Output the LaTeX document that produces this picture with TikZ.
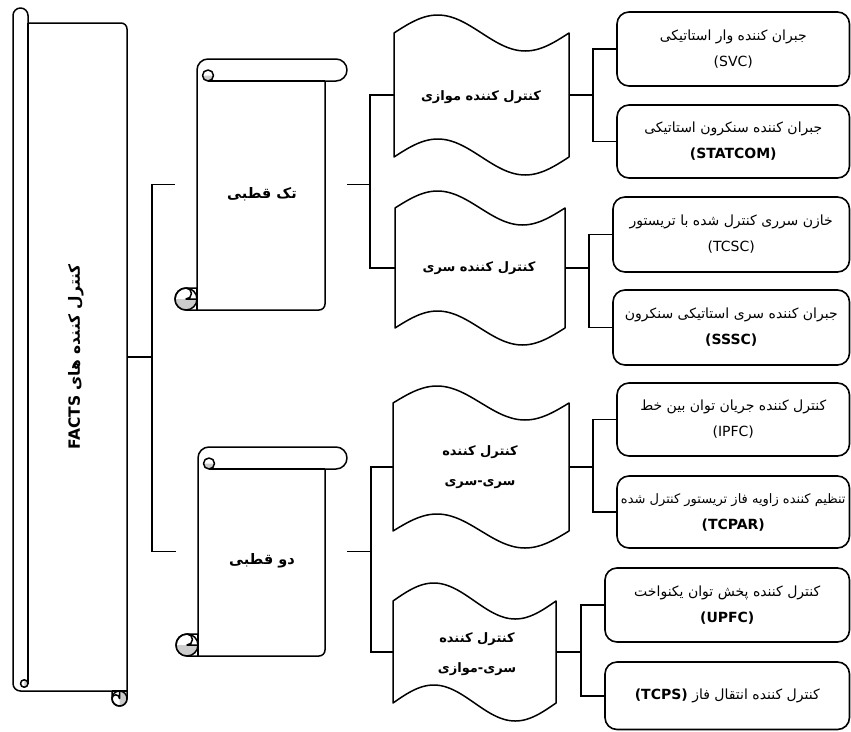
\documentclass[tikz,border=0pt]{standalone}
\usepackage{fontspec}
\setmainfont{DejaVu Sans}
\newfontfamily\ar[Script=Arabic]{DejaVu Sans}
\newfontfamily\lat{DejaVu Sans}
\TeXXeTstate=1
\newcommand\prs[1]{{\ar\beginR #1\endR}}
\definecolor{curlgray}{gray}{0.8}
\newcommand\scrollshape[3]{%
 \pgfmathsetmacro\zzW{#1}\pgfmathsetmacro\zzH{#2}%
 \pgfmathsetmacro\zzc{#3}\pgfmathsetmacro\zzh{#3/2}\pgfmathsetmacro\zzq{#3/4}%
 \pgfmathsetmacro\zzWh{#1-#3/2}\pgfmathsetmacro\zzWc{#1-#3}%
 \pgfmathsetmacro\zzHc{#2-#3}\pgfmathsetmacro\zzHh{#2-#3/2}%
 \draw[line,fill=white] (\zzc,-\zzHc) -- (\zzc,-\zzh) arc (180:90:\zzh) -- (\zzWh,0) arc (90:-90:\zzh) -- (\zzWc,-\zzc) -- (\zzWc,{-(\zzH-6)}) arc (0:-90:6) -- (\zzh,-\zzH) arc (270:90:\zzh) -- cycle;
 \draw[line] (\zzWc,-\zzc) -- ({\zzc+\zzh},-\zzc);
 \fill[curlgray] ({\zzc+\zzh-\zzq},{-(\zzh+\zzq)}) arc (180:360:\zzq) -- cycle;
 \draw[line] ({\zzc+\zzh},{-(\zzh+\zzq)}) circle (\zzq);
 \fill[curlgray] (0,-\zzHh) arc (180:360:\zzh) -- cycle;
 \draw[line] (\zzh,-\zzHh) circle (\zzh);
 \draw[line] (\zzh,-\zzHc) arc (90:-90:\zzq) -- (\zzc,-\zzHh);
 \draw[line] (\zzc,-\zzHc) -- (\zzc,-\zzH);
}
\newcommand\wave[6]{%
 \draw[line,fill=white] plot[domain=0:360,samples=61] ({#2+(#3-#2)*(\x/360)},{-(#4-#5)+#6*sin(\x)}) -- plot[domain=360:0,samples=61] ({#2+(#3-#2)*(\x/360)},{-(#4+#5)+#6*sin(\x)}) -- cycle;
 \node[inner sep=0pt,minimum width={(#3-#2)*1pt},minimum height={(2*#5+2*#6)*1pt}] (#1) at ({(#2+#3)/2},-#4) {};
}
\begin{document}
\begin{tikzpicture}[x=1pt,y=1pt,
  line/.style={line width=1.5pt,line join=round},
  link/.style={line width=1.5pt},
  box/.style={draw,line width=1.6pt,rounded corners=12pt,inner sep=0pt,align=center,font=\fontsize{14}{26}\selectfont},
  lab/.style={align=center,inner sep=0pt,font=\bfseries\fontsize{13}{30}\selectfont},
  big/.style={lab,font=\bfseries\fontsize{14.5}{30}\selectfont},
  hold/.style={inner sep=0pt}]
\useasboundingbox (0,0) rectangle (851,-731);

% big scroll
\begin{scope}[shift={(13,-706)},rotate=90]
 \scrollshape{698}{114}{15}
\end{scope}
\node[hold,minimum width=114pt,minimum height=698pt] (f) at (70,-357) {};
\node[lab,rotate=90,font=\bfseries\fontsize{15.5}{18}\selectfont] (ft) at (76,-357) {\prs{کنترل کننده های \beginL{\lat FACTS}\endL}};

% middle scrolls
\begin{scope}[shift={(175,-59)}]
 \scrollshape{172}{251}{22}
\end{scope}
\node[hold,minimum width=172pt,minimum height=251pt] (s1) at (261,-184.5) {};
\node[big] (s1t) at (262,-194) {\prs{تک قطبی}};

\begin{scope}[shift={(176,-447)}]
 \scrollshape{171}{209}{22}
\end{scope}
\node[hold,minimum width=171pt,minimum height=209pt] (s2) at (261.5,-551.5) {};
\node[big] (s2t) at (262,-561) {\prs{دو قطبی}};

% waves
\wave{w1}{394}{569}{95}{62}{18}
\node[lab] (w1t) at (481,-97) {\prs{کنترل کننده موازی}};
\wave{w2}{395}{565}{268}{60}{17}
\node[lab] (w2t) at (479,-268) {\prs{کنترل کننده سری}};
\wave{w3}{393}{569}{467}{64}{17}
\node[lab] (w3t) at (480,-467) {\prs{کنترل کننده}\\\prs{سری-سری}};
\wave{w4}{393}{556}{652}{51}{18}
\node[lab] (w4t) at (477,-654) {\prs{کنترل کننده}\\\prs{سری-موازی}};

% boxes
\node[box,minimum width=232.5pt,minimum height=74pt] (b1) at (733.25,-49) {\prs{جبران کننده وار استاتیکی}\\(SVC)};
\node[box,minimum width=232.5pt,minimum height=73pt] (b2) at (733.25,-141.5) {\prs{جبران کننده سنکرون استاتیکی}\\\textbf{(STATCOM)}};
\node[box,minimum width=236.5pt,minimum height=75pt] (b3) at (731.25,-234.5) {\prs{خازن سرری کنترل شده با تریستور}\\(TCSC)};
\node[box,minimum width=236.5pt,minimum height=75pt] (b4) at (731.25,-327.5) {\prs{جبران کننده سری استاتیکی سنکرون}\\\textbf{(SSSC)}};
\node[box,minimum width=232.5pt,minimum height=73pt] (b5) at (733.25,-419.5) {\prs{کنترل کننده جریان توان بین خط}\\(IPFC)};
\node[box,minimum width=232.5pt,minimum height=72pt] (b6) at (733.25,-512) {{\fontsize{13}{26}\selectfont\prs{تنظیم کننده زاویه فاز تریستور کنترل شده}}\\\textbf{(TCPAR)}};
\node[box,minimum width=244.5pt,minimum height=74pt] (b7) at (727.25,-605) {\prs{کنترل کننده پخش توان یکنواخت}\\\textbf{(UPFC)}};
\node[box,minimum width=244.5pt,minimum height=67.5pt] (b8) at (727.25,-695.75) {\prs{کنترل کننده انتقال فاز \beginL{\lat\bfseries (TCPS)}\endL}};

% junctions
\coordinate (j1) at ([xshift=25pt]f.east);
\coordinate (j2) at ([xshift=23pt]s1.east);
\coordinate (j3) at ([xshift=24pt]s2.east);
\coordinate (j4) at ([xshift=24pt]w1.east);
\coordinate (j5) at ([xshift=24pt]w2.east);
\coordinate (j6) at ([xshift=24pt]w3.east);
\coordinate (j7) at ([xshift=25pt]w4.east);

% connectors
\draw[link] (f.east) -- (j1);
\draw[link] (j1) |- (s1.west);
\draw[link] (j1) |- (s2.west);
\draw[link] (s1.east) -- (j2);
\draw[link] (j2) |- (w1.west);
\draw[link] (j2) |- (w2.west);
\draw[link] (s2.east) -- (j3);
\draw[link] (j3) |- (w3.west);
\draw[link] (j3) |- (w4.west);
\draw[link] (w1.east) -- (j4);
\draw[link] (j4) |- (b1.west);
\draw[link] (j4) |- (b2.west);
\draw[link] (w2.east) -- (j5);
\draw[link] (j5) |- (b3.west);
\draw[link] (j5) |- (b4.west);
\draw[link] (w3.east) -- (j6);
\draw[link] (j6) |- (b5.west);
\draw[link] (j6) |- (b6.west);
\draw[link] (w4.east) -- (j7);
\draw[link] (j7) |- (b7.west);
\draw[link] (j7) |- (b8.west);
\end{tikzpicture}
\end{document}
